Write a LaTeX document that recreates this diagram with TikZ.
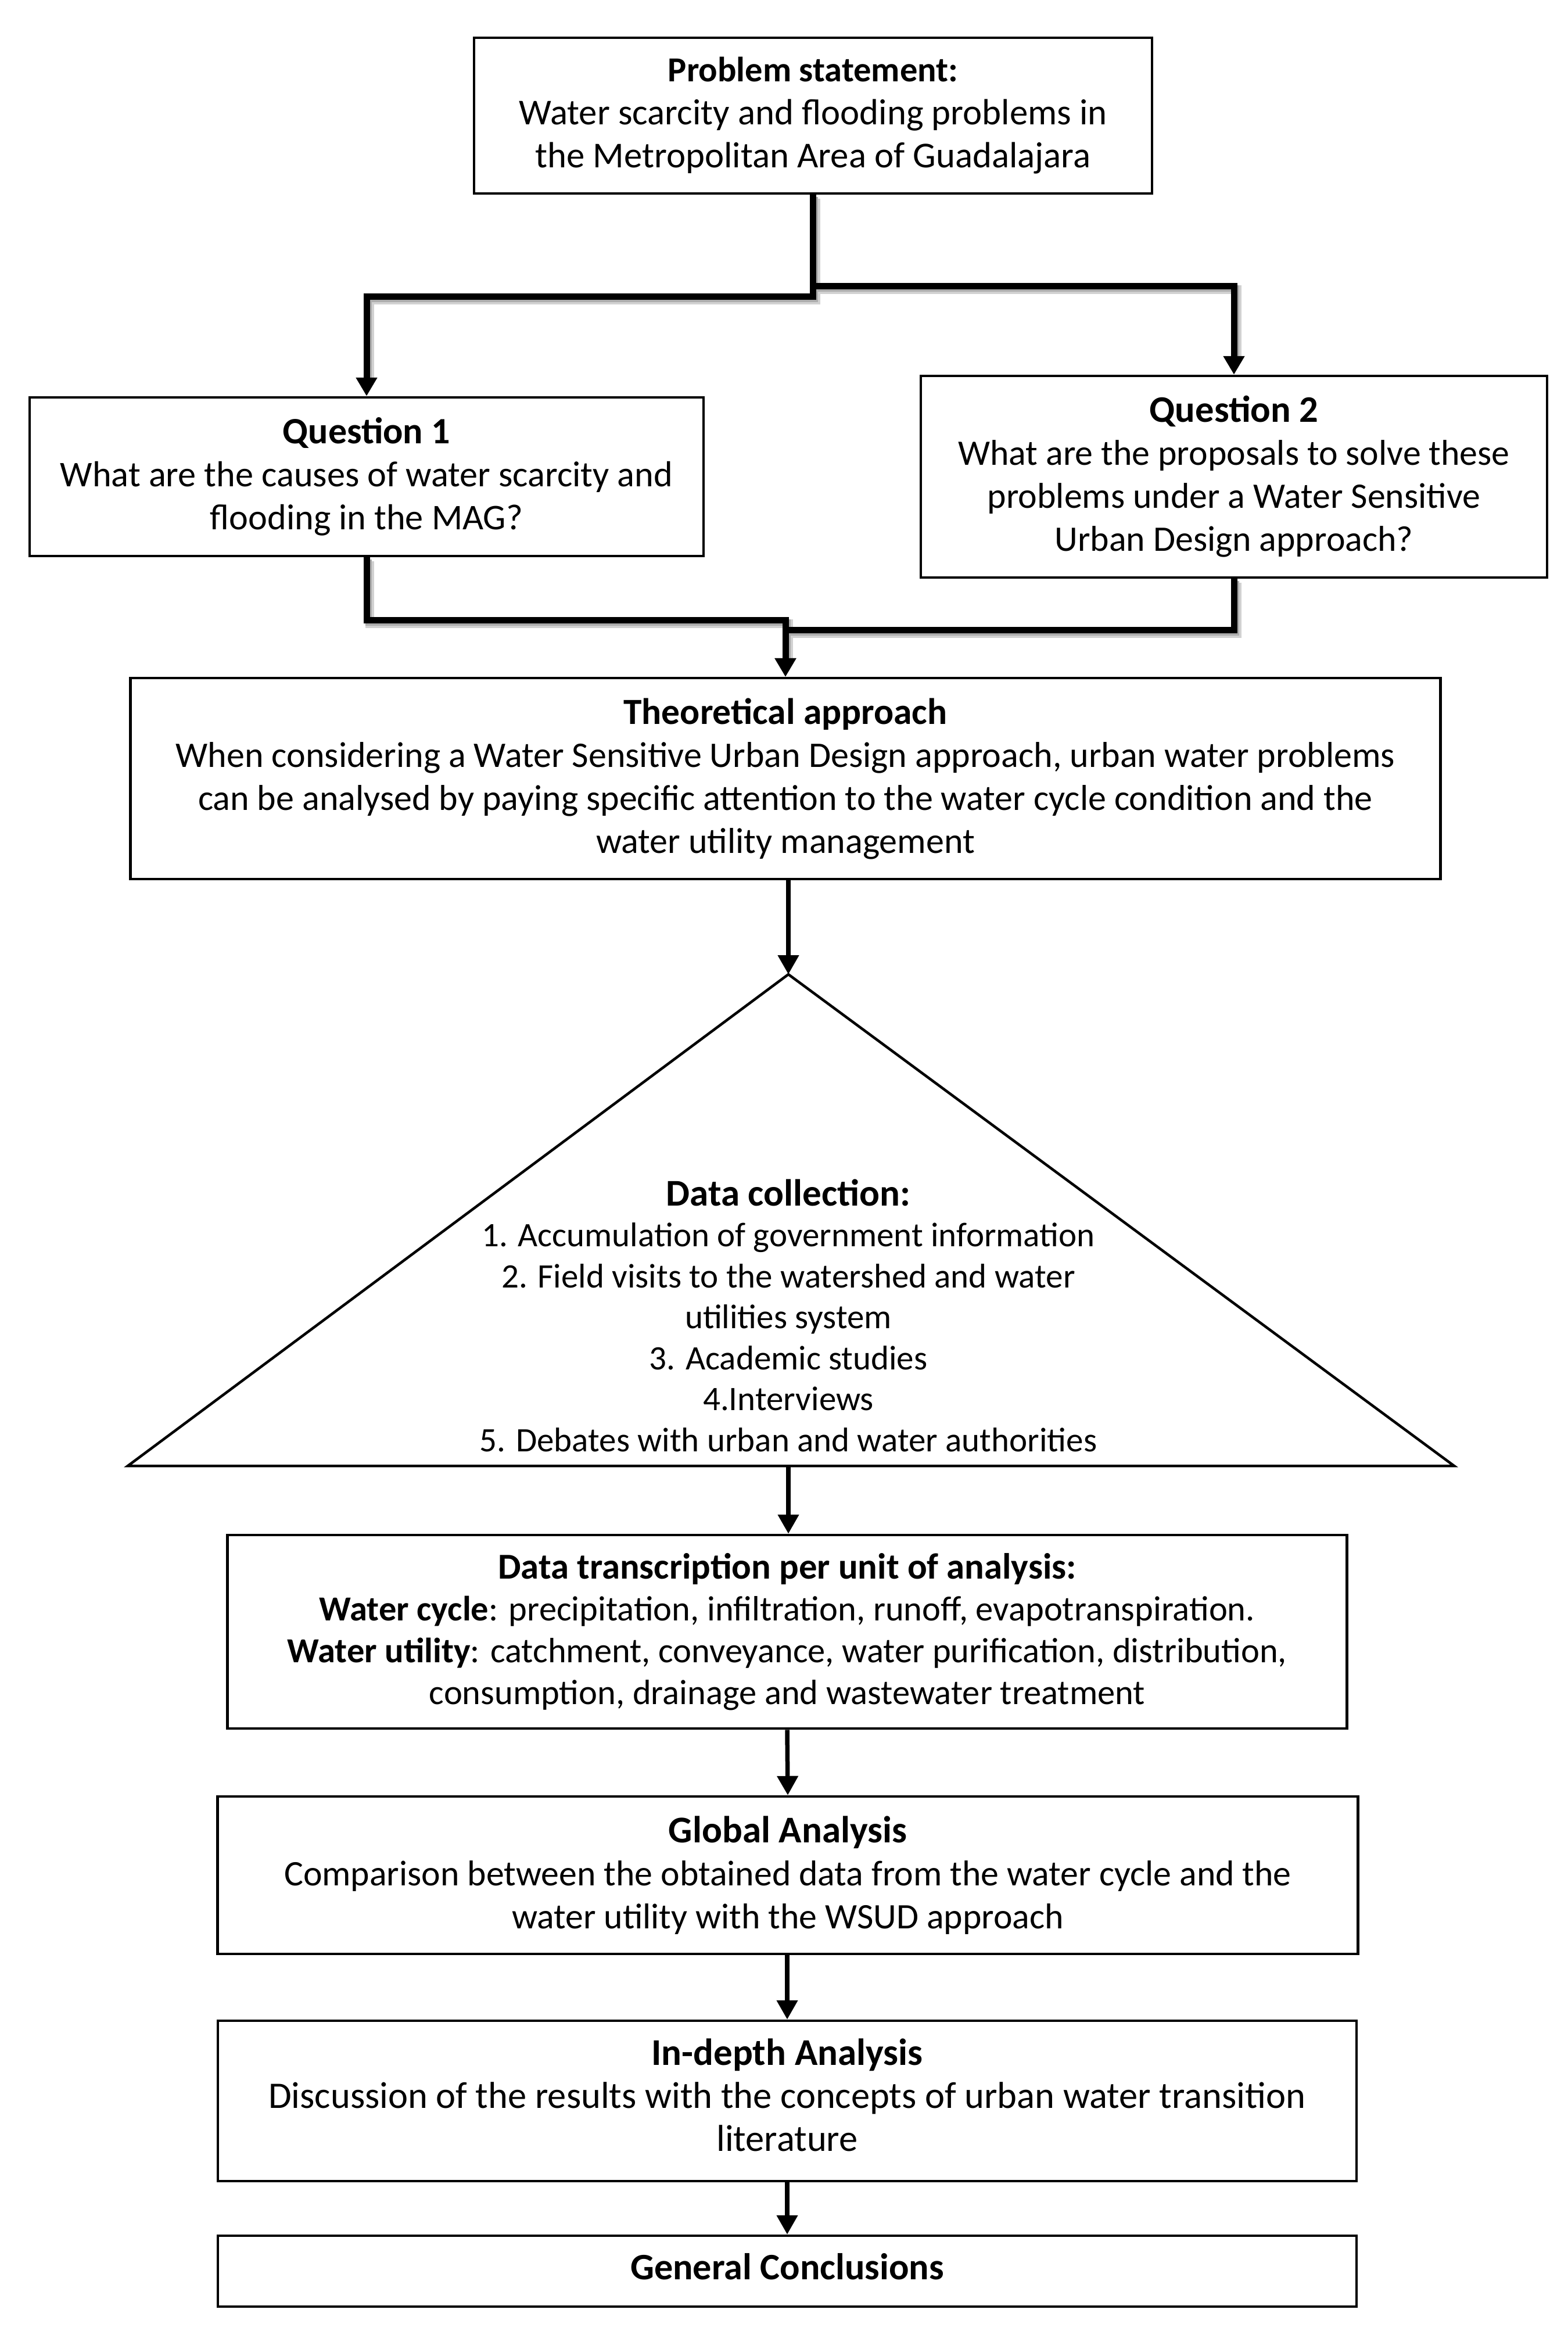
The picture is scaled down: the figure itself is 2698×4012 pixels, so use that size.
\documentclass[tikz,border=0pt]{standalone}
\usepackage{fontspec}
\setmainfont{Carlito}
\usetikzlibrary{arrows.meta}
\newcommand\mytitle[2]{{\fontsize{#1}{14.8}\selectfont\bfseries #2}}
\begin{document}
\begin{tikzpicture}[x=0.2pt,y=-0.2pt,
  box/.style={draw, line width=0.9pt, fill=white, align=center, inner sep=0pt,
    font=\fontsize{12.4}{14.8}\selectfont},
  txt/.style={align=center, inner sep=0pt, font=\fontsize{11.8}{14.1}\selectfont},
  bigconn/.style={line width=2.2pt, line join=miter, -{Triangle[width=7pt,length=6.4pt]}},
  conn/.style={line width=1.5pt, -{Triangle[width=7pt,length=6.6pt]}},
  shadowln/.style={draw=black!18, line width=3pt, shorten >=7pt},
  shadowln2/.style={draw=black!32, line width=2.2pt, shorten >=7pt}]
\useasboundingbox (0,0) rectangle (2698,4012);

\node[box, minimum width=233.4pt, minimum height=53.6pt, font=\fontsize{12.55}{14.8}\selectfont] (prob) at (1399.5,199)
  {\mytitle{12.1}{Problem statement:}\\Water scarcity and flooding problems in\\the Metropolitan Area of Guadalajara};
\node[box, minimum width=232pt, minimum height=54.6pt, font=\fontsize{12.45}{14.8}\selectfont] (q1) at (631,820.5)
  {\mytitle{12.8}{Question 1}\\What are the causes of water scarcity and\\flooding in the MAG?};
\node[box, minimum width=215.6pt, minimum height=69.4pt, font=\fontsize{12.36}{14.8}\selectfont] (q2) at (2124,820.5)
  {\mytitle{12.9}{Question 2}\\What are the proposals to solve these\\problems under a Water Sensitive\\Urban Design approach?};
\node[box, minimum width=451pt, minimum height=69.2pt, font=\fontsize{12.4}{14.8}\selectfont] (theo) at (1352,1340)
  {\mytitle{12.7}{Theoretical approach}\\When considering a Water Sensitive Urban Design approach, urban water problems\\can be analysed by paying specific attention to the water cycle condition and the\\water utility management};

\coordinate (apex) at (1357,1677);
\coordinate (bl) at (220,2523);
\coordinate (br) at (2503,2523);
\coordinate (basemid) at (1357,2523);
\draw[line width=0.9pt, line join=miter] (apex) -- (bl) -- (br) -- cycle;
\node[txt] (dc) at (1357,2264)
  {\mytitle{13}{Data collection:}\\1. Accumulation of government information\\2. Field visits to the watershed and water\\utilities system\\3. Academic studies\\4.Interviews\\5. Debates with urban and water authorities};

\node[box, minimum width=385.4pt, minimum height=66.6pt, font=\fontsize{12.1}{14.4}\selectfont] (data) at (1355,2808.5)
  {\mytitle{12.55}{Data transcription per unit of analysis:}\\\textbf{Water cycle}: precipitation, infiltration, runoff, evapotranspiration.\\\textbf{Water utility}: catchment, conveyance, water purification, distribution,\\consumption, drainage and wastewater treatment};
\node[box, minimum width=392.6pt, minimum height=54.2pt, font=\fontsize{12.35}{14.8}\selectfont] (glob) at (1356,3227.5)
  {\mytitle{13}{Global Analysis}\\Comparison between the obtained data from the water cycle and the\\water utility with the WSUD approach};
\node[box, minimum width=392pt, minimum height=55.2pt, text depth=4pt, font=\fontsize{12.9}{14.8}\selectfont] (indepth) at (1355,3616)
  {\mytitle{13}{In-depth Analysis}\\Discussion of the results with the concepts of urban water transition\\literature};
\node[box, minimum width=392pt, minimum height=24.4pt, text depth=3.2pt] (gen) at (1355,3909)
  {\mytitle{12.85}{General Conclusions}};

% shadows of the upper connectors
\begin{scope}[transform canvas={shift={(1.0pt,-1.3pt)}}]
  \draw[shadowln] (prob.south) -- ++(0,175) -| (q1.north);
  \draw[shadowln] (prob.south) -- ++(0,157) -| (q2.north);
  \draw[shadowln] (q1.south) -- ++(0,108) -| (theo.north);
  \draw[shadowln] (q2.south) -- ++(0,88) -| (theo.north);
\end{scope}
\begin{scope}[transform canvas={shift={(0.6pt,-0.8pt)}}]
  \draw[shadowln2] (prob.south) -- ++(0,175) -| (q1.north);
  \draw[shadowln2] (prob.south) -- ++(0,157) -| (q2.north);
  \draw[shadowln2] (q1.south) -- ++(0,108) -| (theo.north);
  \draw[shadowln2] (q2.south) -- ++(0,88) -| (theo.north);
\end{scope}

% upper connectors
\draw[bigconn] (prob.south) -- ++(0,175) -| (q1.north);
\draw[bigconn] (prob.south) -- ++(0,157) -| (q2.north);
\draw[bigconn] (q1.south) -- ++(0,108) -| (theo.north);
\draw[bigconn] (q2.south) -- ++(0,88) -| (theo.north);

% lower connectors
\draw[conn] (theo.south -| apex) -- (apex);
\draw[conn] (basemid) -- (basemid |- data.north);
\draw[conn] (data.south) -- (glob.north);
\draw[conn] (glob.south -| indepth.north) -- (indepth.north);
\draw[conn] (indepth.south) -- (gen.north);
\end{tikzpicture}
\end{document}
